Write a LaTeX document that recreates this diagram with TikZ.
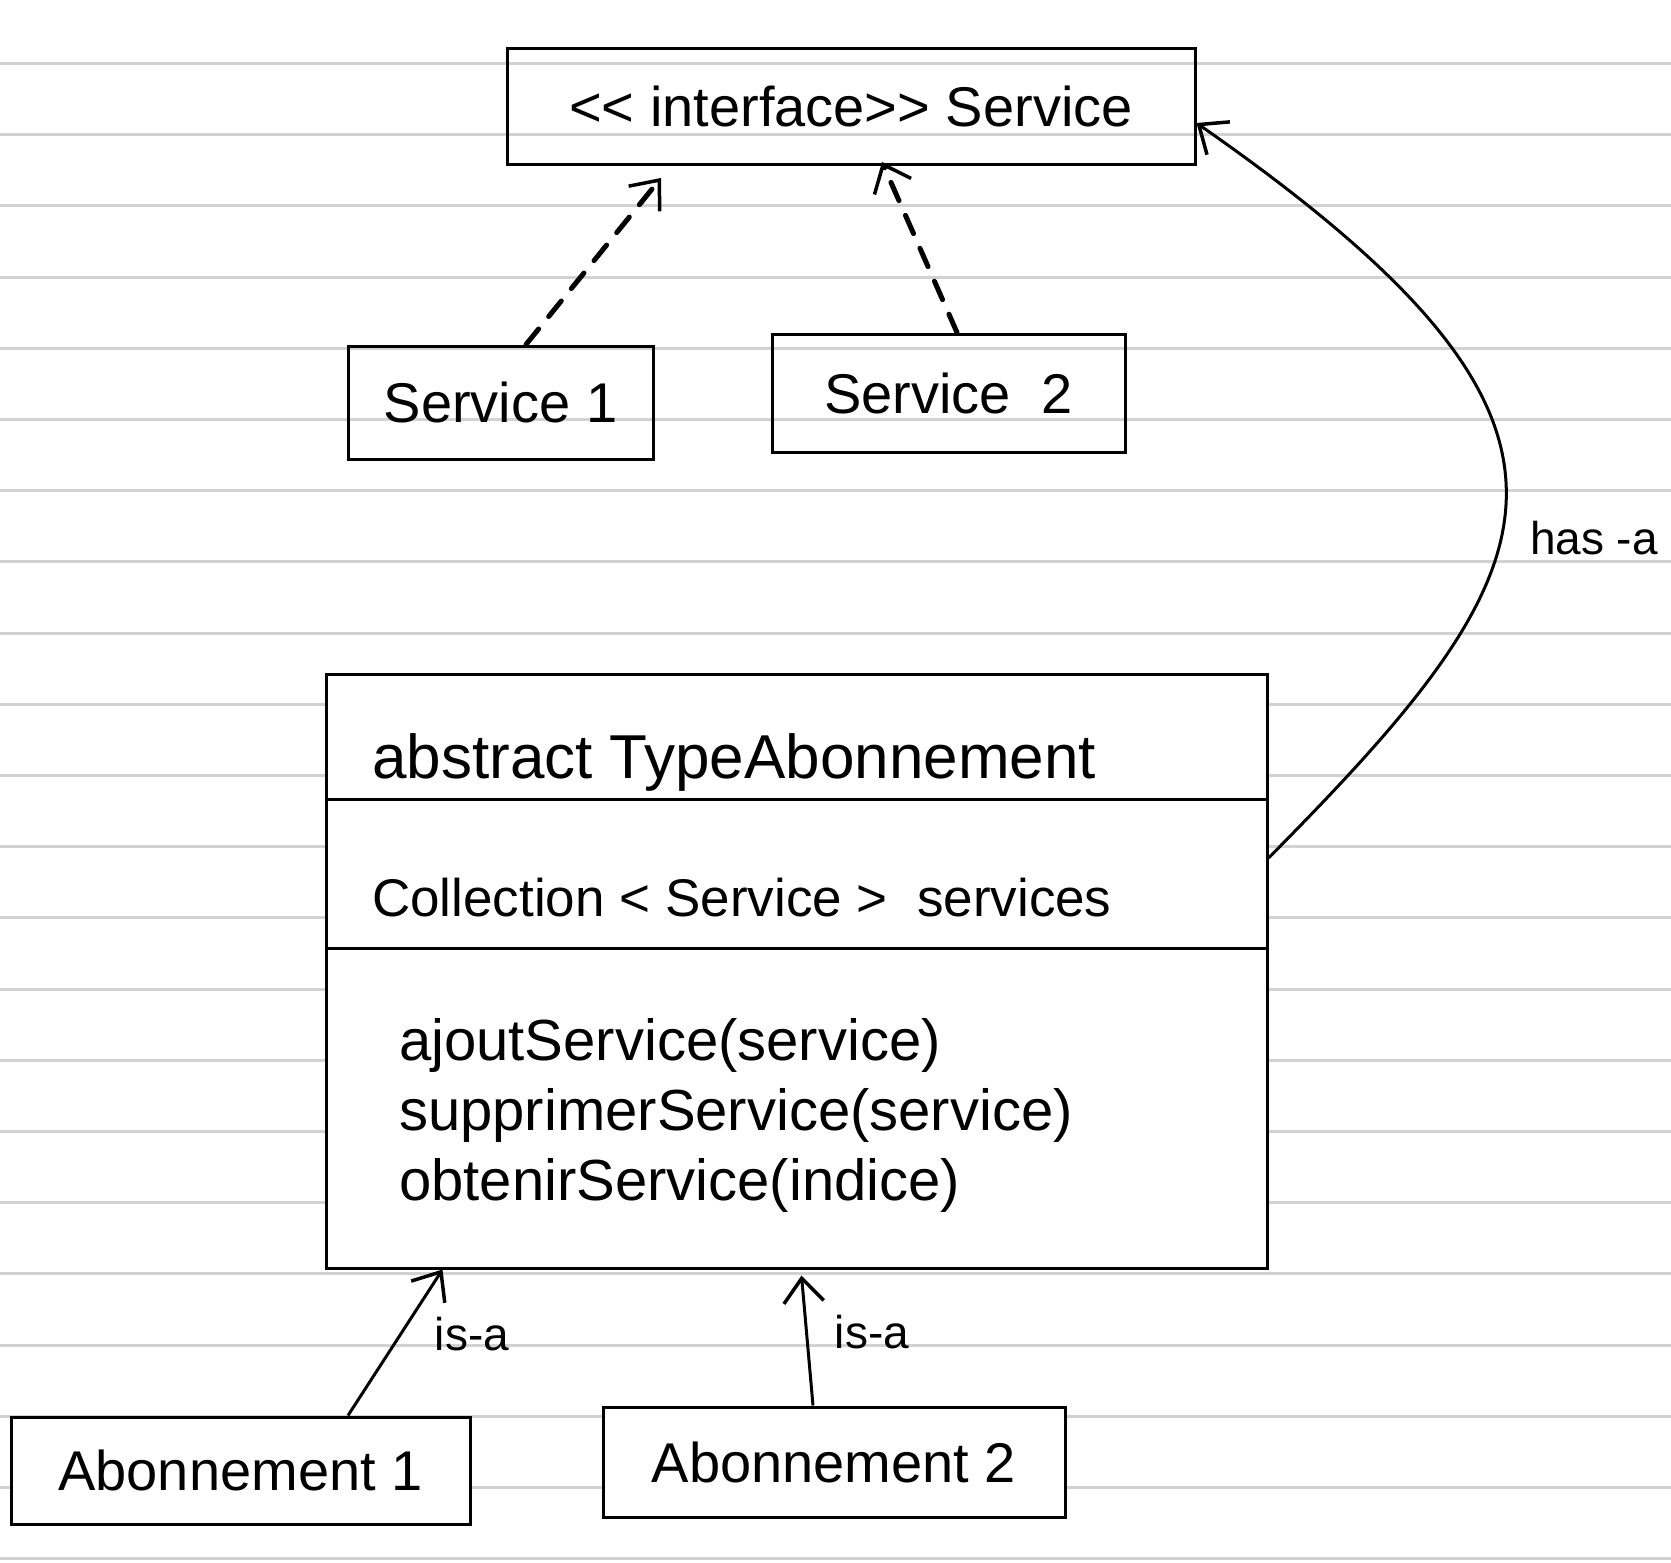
\documentclass[tikz,border=0pt]{standalone}
\usepackage{fontspec}
\setmainfont[Ligatures=NoCommon]{Liberation Sans}
\usetikzlibrary{arrows.meta}

\tikzset{every picture/.style={line width=3pt}}
\tikzset{
  box/.style={draw, line width=3pt, inner sep=0pt},
  hand/.style={font=\fontsize{56}{66}\selectfont, inner sep=0.75pt},
  small/.style={font=\fontsize{46}{54}\selectfont, inner sep=0.75pt},
  barb/.style={-{Straight Barb[length=24pt,width=40pt,line width=3.5pt]}},
  realise/.style={barb, line width=5pt, dash pattern=on 20pt off 16pt, line cap=round}
}

\begin{document}
\begin{tikzpicture}[x=1pt,y=1pt,yscale=-1,xscale=1]
\useasboundingbox (0,0) rectangle (1671,1563);
\fill[white] (0,0) rectangle (1671,1563);

% ruled paper
\foreach \k in {0,...,21}
  \draw[line width=3pt, gray!35] (0,63.5+71.2*\k) -- (1671,63.5+71.2*\k);

% Boxes
\node[box, minimum width=688, minimum height=115] (iface) at (851,106.5) {};
\node[box, minimum width=305, minimum height=113] (srv1) at (500.5,402.5) {};
\node[box, minimum width=353, minimum height=118] (srv2) at (948.5,393) {};
\node[box, fill=white, minimum width=941, minimum height=594] (cls) at (796.5,971) {};
\node[box, fill=white, minimum width=459, minimum height=107] (abo1) at (240.5,1470.5) {};
\node[box, fill=white, minimum width=462, minimum height=110] (abo2) at (834,1462) {};

% compartments of the class
\coordinate (d1w) at (326,799);
\coordinate (d1e) at (1267,799);
\coordinate (d2w) at (326,948);
\coordinate (d2e) at (1267,948);
\draw (d1w) -- (d1e);
\draw (d2w) -- (d2e);

% Text Node
\node[hand] (ifaceT) at (iface.center) {\textless\kern0pt\textless{} interface\textgreater\kern0pt\textgreater{} Service};
\node[hand] (srv1T) at (srv1.center) {Service 1};
\node[hand] (srv2T) at (srv2.center) {Service \ 2};
\node[hand, font=\fontsize{62}{72}\selectfont, anchor=base west] (clsT) at (370,778) {abstract TypeAbonnement};
\node[hand, font=\fontsize{53}{62}\selectfont, anchor=base west] (attrT) at (370,916) {Collection \textless{} Service \textgreater{} \ services};
\node[hand, font=\fontsize{58}{68}\selectfont, anchor=base west] (m1) at (397,1060) {ajoutService(service)};
\node[hand, font=\fontsize{58}{68}\selectfont, anchor=base west] (m2) at (397,1130) {supprimerService(service)};
\node[hand, font=\fontsize{58}{68}\selectfont, anchor=base west] (m3) at (397,1200) {obtenirService(indice)};
\node[hand] (abo1T) at (abo1.center) {Abonnement 1};
\node[hand] (abo2T) at (abo2.center) {Abonnement 2};
\node[small] (hasa) at (1594,538) {has -a};
\node[small] (isa1) at (472,1334) {is-a};
\node[small] (isa2) at (872,1332) {is-a};

% arrow tips
\coordinate (tip1) at (661,178);
\coordinate (tip2) at (882,162);

% realisations
\draw[realise] ([xshift=25.5pt]srv1.north) -- (tip1);
\draw[realise] ([xshift=8.5pt]srv2.north) -- (tip2);

% has-a
\draw[barb] ([yshift=-113pt]cls.east) .. controls (1561,563) and (1633,427) .. ([yshift=16.5pt]iface.east);

% is-a
\draw[barb] ([xshift=107.5pt]abo1.north) -- ([xshift=-354pt]cls.south);
\draw[barb] ([xshift=-21pt]abo2.north) -- ([xshift=5pt,yshift=6pt]cls.south);

\end{tikzpicture}
\end{document}
